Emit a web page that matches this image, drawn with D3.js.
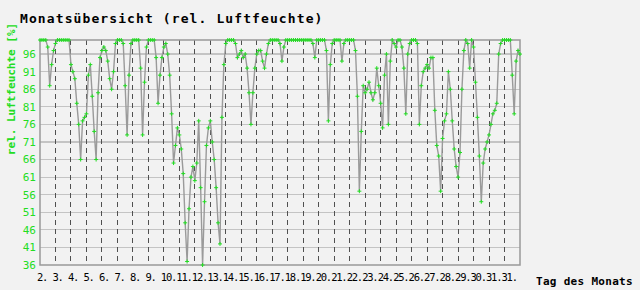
<!DOCTYPE html>
<html>
<head>
<meta charset="utf-8">
<script src="https://cdn.jsdelivr.net/npm/d3@7/dist/d3.min.js"></script>
<style>
  body { margin: 0; background: #f2f2f2; }
  text { font-family: "DejaVu Sans Mono", monospace; }
</style>
</head>
<body>
<svg id="chart"></svg>
<script>
// x tick labels, one per day (the original repeats "31.")
let dayLabels = ["2.", "3.", "4.", "5.", "6.", "7.", "8.", "9.", "10.", "11.", "12.",
  "13.", "14.", "15.", "16.", "17.", "18.", "19.", "20.", "21.", "22.", "23.", "24.",
  "25.", "26.", "27.", "28.", "29.", "30.", "31.", "31."];

let yTicks = [36, 41, 46, 51, 56, 61, 66, 71, 76, 81, 86, 91, 96];

// rel. humidity in %, one value every 3 hours
let humidity = [
  100, 100, 100, 100, 98, 87, 93, 97,
  99, 100, 100, 100, 100, 100, 100, 100,
  93, 91, 89, 82, 76, 66, 77, 78,
  79, 90, 93, 84, 74, 66, 85, 95,
  97, 98, 97, 94, 89, 86, 91, 99,
  100, 100, 100, 99, 87, 73, 90, 99,
  100, 100, 100, 100, 92, 73, 88, 98,
  100, 100, 100, 100, 95, 82, 90, 95,
  98, 99, 96, 90, 79, 65, 70, 75,
  73, 69, 62, 48, 37, 52, 61, 64,
  60, 65, 77, 58, 36, 54, 70, 75,
  77, 71, 66, 58, 48, 42, 78, 93,
  99, 100, 100, 100, 100, 99, 95, 96,
  97, 95, 96, 92, 85, 76, 85, 92,
  96, 97, 97, 94, 92, 96, 99, 100,
  100, 100, 100, 100, 99, 94, 98, 100,
  100, 100, 100, 100, 100, 100, 100, 100,
  100, 100, 100, 100, 100, 99, 95, 100,
  100, 100, 100, 100, 97, 77, 93, 99,
  100, 100, 100, 100, 94, 99, 100, 100,
  100, 100, 100, 97, 84, 57, 74, 87,
  85, 86, 88, 85, 83, 85, 92, 87,
  82, 75, 90, 96, 76, 94, 100, 99,
  98, 100, 100, 98, 92, 79, 96, 99,
  100, 100, 100, 99, 76, 87, 91, 92,
  93, 92, 95, 95, 80, 70, 67, 57,
  72, 77, 79, 91, 86, 77, 69, 64,
  61, 68, 86, 97, 100, 99, 92, 100,
  98, 88, 78, 67, 54, 65, 69, 71,
  73, 76, 79, 80, 82, 96, 99, 100,
  100, 100, 100, 100, 90, 79, 94, 97,
  96
];

let width = 640;
let height = 290;
let green = '#22dd22';

let svg = d3.select('#chart')
    .attr('width', width)
    .attr('height', height)
    .style('background', '#f2f2f2');

let x = d3.scaleLinear()
    .domain([0, dayLabels.length])
    .range([40, 520]);

let y = d3.scaleLinear()
    .domain([36, 100])
    .range([265, 40]);

// title
svg.append('text')
    .attr('x', 20)
    .attr('y', 23)
    .style('font-size', '13px')
    .style('font-weight', 'bold')
    .style('letter-spacing', '1.1px')
    .text('Monatsübersicht (rel. Luftfeuchte)');

// horizontal grid
svg.selectAll('line.hgrid')
    .data(yTicks.slice(1))
  .enter().append('line')
    .attr('class', 'hgrid')
    .attr('x1', x(0))
    .attr('x2', x(dayLabels.length))
    .attr('y1', d => y(d))
    .attr('y2', d => y(d))
    .style('stroke', '#c4c4c4')
    .style('stroke-width', '1.2px')
    .style('shape-rendering', 'crispEdges');

// dashed day lines
svg.selectAll('line.vgrid')
    .data(d3.range(1, dayLabels.length))
  .enter().append('line')
    .attr('class', 'vgrid')
    .attr('x1', d => x(d))
    .attr('x2', d => x(d))
    .attr('y1', y(100))
    .attr('y2', y(36))
    .style('stroke', '#505050')
    .style('stroke-width', '1px')
    .style('stroke-dasharray', '5,4')
    .style('shape-rendering', 'crispEdges');

// frame
svg.append('rect')
    .attr('x', x(0))
    .attr('y', y(100))
    .attr('width', x(dayLabels.length) - x(0))
    .attr('height', y(36) - y(100))
    .style('fill', 'none')
    .style('stroke', '#999999')
    .style('stroke-width', '1.5px');

// y tick labels
svg.selectAll('text.ytick')
    .data(yTicks)
  .enter().append('text')
    .attr('class', 'ytick')
    .attr('x', 36)
    .attr('y', d => y(d))
    .attr('dy', '0.36em')
    .attr('text-anchor', 'end')
    .style('font-size', '11px')
    .style('fill', green)
    .text(d => d);

// x tick labels, squeezed so the two-digit days fit into one day
svg.selectAll('text.xtick')
    .data(dayLabels)
  .enter().append('text')
    .attr('class', 'xtick')
    .attr('x', (d, i) => x(i) - 3)
    .attr('y', 281)
    .style('font-size', '10.5px')
    .style('letter-spacing', '-1.25px')
    .style('fill', '#000')
    .text(d => d);

svg.append('text')
    .attr('transform', 'translate(15,89) rotate(-90)')
    .attr('text-anchor', 'middle')
    .style('font-size', '11px')
    .style('font-weight', 'bold')
    .style('fill', green)
    .text('rel. Luftfeuchte [%]');

svg.append('text')
    .attr('x', 536)
    .attr('y', 285)
    .style('font-size', '11px')
    .style('font-weight', 'bold')
    .style('letter-spacing', '0.3px')
    .text('Tag des Monats');

// humidity line
let line = d3.line()
    .x((d, i) => x(i / 8))
    .y(d => y(d));

svg.append('path')
    .datum(humidity)
    .attr('d', line)
    .style('fill', 'none')
    .style('stroke', '#9a9a9a')
    .style('stroke-width', '1.4px');

svg.selectAll('path.mark')
    .data(humidity)
  .enter().append('path')
    .attr('class', 'mark')
    .attr('transform', (d, i) => `translate(${x(i / 8)},${y(d)})`)
    .attr('d', 'M-2,0H2M0,-2V2')
    .style('stroke', green)
    .style('stroke-width', '1px')
    .style('fill', 'none');
</script>
</body>
</html>
